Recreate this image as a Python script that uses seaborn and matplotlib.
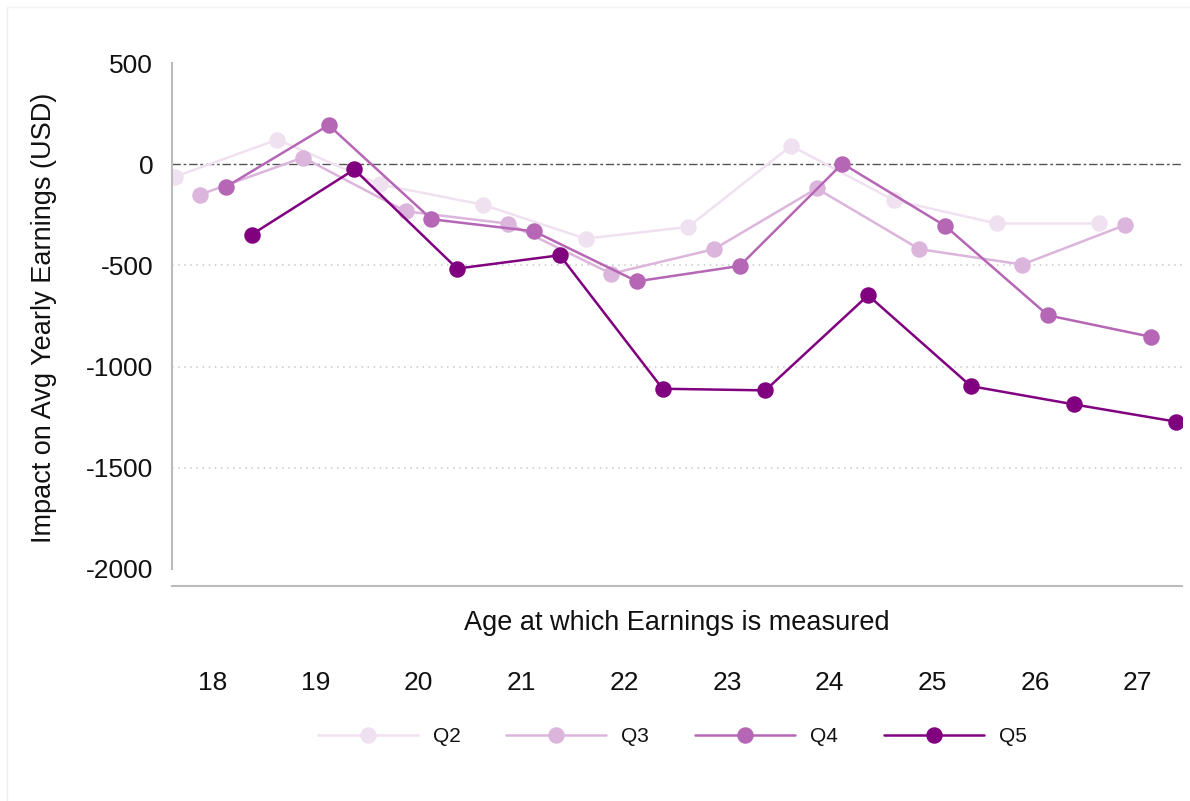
import pandas as pd
import matplotlib
matplotlib.use("Agg")
import matplotlib.pyplot as plt
import seaborn as sns

# Estimated effects by age at measurement, one list per quintile
ages = [18, 19, 20, 21, 22, 23, 24, 25, 26, 27]
q2 = [-63, 122, -100, -200, -368, -310, 91, -178, -293, -293]
q3 = [-150, 33, -233, -294, -541, -420, -120, -420, -496, -301]
q4 = [-112, 193, -272, -332, -579, -503, 3, -305, -747, -853]
q5 = [-348, -26, -516, -450, -1110, -1118, -648, -1097, -1187, -1273]

groups = ["Q2", "Q3", "Q4", "Q5"]
colors = ["#f0e1f0", "#dcb5dc", "#b566b5", "#800080"]

data = pd.DataFrame({
    "age": [str(a) for a in ages] * 4,
    "effect": q2 + q3 + q4 + q5,
    "group": [g for g in groups for _ in ages],
})

sns.set_style("white")
plt.rcParams["font.family"] = ["Liberation Sans", "DejaVu Sans"]
plt.rcParams["text.color"] = "#111111"
plt.rcParams["axes.labelcolor"] = "#111111"

fig = plt.figure(figsize=(11.9, 8.01), dpi=100)
ax = fig.add_axes([172 / 1190, 215 / 801, 1010 / 1190, 527 / 801])

# faint outer border like the original graph region
fig.add_artist(plt.Line2D([7 / 1190, 7 / 1190], [0, 794 / 801], color="#eeeeee", lw=1))
fig.add_artist(plt.Line2D([7 / 1190, 1], [794 / 801, 794 / 801], color="#f3f3f3", lw=1))

# reference lines
for v in [-500, -1000, -1500]:
    ax.axhline(v, color="#c8c8c8", lw=1.1, ls=(0, (1, 3)), zorder=0)
ax.axhline(0, color="#555555", lw=1, ls=(0, (6, 2, 2, 2)), zorder=0)

sns.pointplot(data=data, x="age", y="effect", hue="group", hue_order=groups,
              palette=colors, order=[str(a) for a in ages], errorbar=None,
              dodge=0.75, markers="o", markersize=10.5, linewidth=1.8, ax=ax)

handles, labels = ax.get_legend_handles_labels()
ax.get_legend().remove()

ax.set_xlim(-0.4, 9.43)
ax.set_ylim(-2085, 520)
ax.set_yticks([500, 0, -500, -1000, -1500, -2000])
ax.set_yticklabels(["500", "0", "-500", "-1000", "-1500", "-2000"])

sns.despine(ax=ax, top=True, right=True)
ax.spines["left"].set_bounds(-2000, 500)
ax.spines["left"].set_color("#bbbbbb")
ax.spines["left"].set_linewidth(1.5)
ax.spines["bottom"].set_color("#bbbbbb")
ax.spines["bottom"].set_linewidth(1.5)

ax.tick_params(axis="y", length=8, width=1.4, color="#555555", labelcolor="#111111",
               labelsize=19, pad=5.5)
ax.tick_params(axis="x", length=0, labelcolor="#111111", labelsize=19, pad=61)
ax.grid(False)

ax.set_xlabel("Age at which Earnings is measured", fontsize=19.5)
ax.xaxis.set_label_coords(0.5, -0.045)
ax.set_ylabel("Impact on Avg Yearly Earnings (USD)", fontsize=19.5)
ax.yaxis.set_label_coords(-0.114, 0.5085)

fig.legend(handles, labels, loc="center", bbox_to_anchor=(672 / 1190, 64 / 801),
           ncol=4, frameon=False, fontsize=15, handlelength=4.8,
           handletextpad=0.72, columnspacing=2.2)

fig.savefig("out.png", dpi=100, facecolor="white")
